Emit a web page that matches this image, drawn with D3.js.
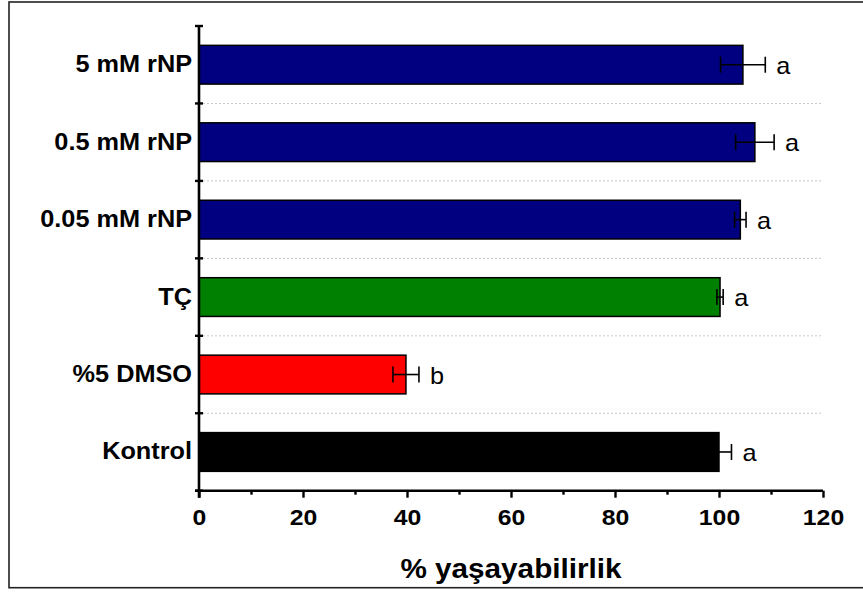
<!DOCTYPE html>
<html>
<head>
<meta charset="utf-8">
<script src="https://cdn.jsdelivr.net/npm/d3@7"></script>
<style>
  html, body { margin: 0; padding: 0; background: #fff; }
  svg { display: block; }
  text { font-family: Arial, "Liberation Sans", Helvetica, sans-serif; fill: #000; }
</style>
</head>
<body>
<svg id="chart" width="863" height="592"></svg>
<script>
// Groups, top to bottom
const categories = ["5 mM rNP", "0.5 mM rNP", "0.05 mM rNP", "TÇ", "%5 DMSO", "Kontrol"];
// Mean viability (%) and standard error per group
const viability = [104.6, 106.9, 104.1, 100.2, 39.8, 100.0];
const errors = [4.3, 3.7, 1.1, 0.6, 2.5, 2.4];
// Statistical grouping letters
const letters = ["a", "a", "a", "a", "b", "a"];
const barColors = ["#000080", "#000080", "#000080", "#008000", "#ff0000", "#000000"];
const majorTicks = [0, 20, 40, 60, 80, 100, 120];
const minorTicks = [10, 30, 50, 70, 90, 110];
const xTitle = "% yaşayabilirlik";

const svg = d3.select("#chart");
const plotLeft = 199, plotRight = 823, plotTop = 26, plotBottom = 490.7;
const sx = 1.1; // horizontal text stretch

// outer frame
svg.append("rect")
  .attr("x", 9).attr("y", 2).attr("width", 870).attr("height", 585.7)
  .attr("fill", "none").attr("stroke", "#222").attr("stroke-width", 1.6);

const x = d3.scaleLinear().domain([0, 120]).range([plotLeft, plotRight]);
const y = d3.scaleBand().domain(categories).range([plotTop, plotBottom]).padding(0);
const step = y.step();
const barH = step * 0.5;

// dotted separators between groups
const g = svg.append("g");
g.selectAll("line.sep")
  .data(categories.slice(1))
  .join("line")
  .attr("class", "sep")
  .attr("x1", plotLeft).attr("x2", plotRight)
  .attr("y1", d => y(d)).attr("y2", d => y(d))
  .attr("stroke", "#c8c8c8").attr("stroke-width", 1)
  .attr("stroke-dasharray", "2,2");

// bars
g.selectAll("rect.bar")
  .data(categories)
  .join("rect")
  .attr("class", "bar")
  .attr("x", x(0))
  .attr("y", d => y(d) + (step - barH) / 2)
  .attr("width", (d, i) => x(viability[i]) - x(0))
  .attr("height", barH)
  .attr("fill", (d, i) => barColors[i])
  .attr("stroke", "#000").attr("stroke-width", 1.5);

// error bars
const capH = 16;
const eb = g.selectAll("g.err").data(categories).join("g").attr("class", "err");
eb.append("line")
  .attr("x1", (d, i) => x(viability[i] - errors[i]))
  .attr("x2", (d, i) => x(viability[i] + errors[i]))
  .attr("y1", d => y(d) + step / 2).attr("y2", d => y(d) + step / 2);
eb.append("line")
  .attr("x1", (d, i) => x(viability[i] - errors[i]))
  .attr("x2", (d, i) => x(viability[i] - errors[i]))
  .attr("y1", d => y(d) + step / 2 - capH / 2).attr("y2", d => y(d) + step / 2 + capH / 2);
eb.append("line")
  .attr("x1", (d, i) => x(viability[i] + errors[i]))
  .attr("x2", (d, i) => x(viability[i] + errors[i]))
  .attr("y1", d => y(d) + step / 2 - capH / 2).attr("y2", d => y(d) + step / 2 + capH / 2);
eb.selectAll("line").attr("stroke", "#000").attr("stroke-width", 1.6);

// significance letters
g.selectAll("text.letter")
  .data(categories)
  .join("text")
  .attr("class", "letter")
  .attr("transform", (d, i) => `translate(${x(viability[i] + errors[i]) + 11},${y(d) + step / 2 + 9}) scale(${sx},1)`)
  .attr("font-size", 23)
  .text((d, i) => letters[i]);

// x axis: major ticks with labels
const xAxis = d3.axisBottom(x).tickValues(majorTicks).tickSize(7).tickFormat(d3.format("d"));
const xg = svg.append("g").attr("transform", `translate(0,${plotBottom})`).call(xAxis);
xg.select(".domain").attr("stroke", "#000").attr("stroke-width", 2.6)
  .attr("d", `M${plotLeft - 4},0H${plotRight}`);
xg.selectAll(".tick line").attr("stroke", "#000").attr("stroke-width", 2.4);
xg.selectAll(".tick text")
  .attr("font-size", 22.5).attr("font-weight", "bold")
  .attr("font-family", "Arial, 'Liberation Sans', sans-serif")
  .attr("fill", "#000")
  .attr("dy", null)
  .attr("y", 34.5)
  .attr("transform", `scale(${sx},1)`);

// x axis: minor ticks
const xMinor = d3.axisBottom(x).tickValues(minorTicks).tickSize(4).tickFormat("");
const xm = svg.append("g").attr("transform", `translate(0,${plotBottom})`).call(xMinor);
xm.select(".domain").remove();
xm.selectAll(".tick line").attr("stroke", "#000").attr("stroke-width", 2.4);

// y axis: spine with crossing ticks at group boundaries
const bounds = categories.map(d => y(d)).concat([plotBottom]);
svg.append("line")
  .attr("x1", plotLeft).attr("x2", plotLeft)
  .attr("y1", plotTop).attr("y2", plotBottom + 7)
  .attr("stroke", "#000").attr("stroke-width", 2.6);
svg.selectAll("line.ytick")
  .data(bounds)
  .join("line")
  .attr("class", "ytick")
  .attr("x1", plotLeft - 4).attr("x2", plotLeft + 4)
  .attr("y1", d => d).attr("y2", d => d)
  .attr("stroke", "#000").attr("stroke-width", 2.4);

// category labels
svg.selectAll("text.cat")
  .data(categories)
  .join("text")
  .attr("class", "cat")
  .attr("transform", d => `translate(192,${y(d) + step / 2 + 7.5}) scale(${sx},1)`)
  .attr("text-anchor", "end")
  .attr("font-size", 23).attr("font-weight", "bold")
  .text(d => d);

// x axis title
svg.append("text")
  .attr("transform", `translate(${(plotLeft + plotRight) / 2},578) scale(${sx},1)`)
  .attr("text-anchor", "middle")
  .attr("font-size", 27).attr("font-weight", "bold")
  .text(xTitle);
</script>
</body>
</html>
